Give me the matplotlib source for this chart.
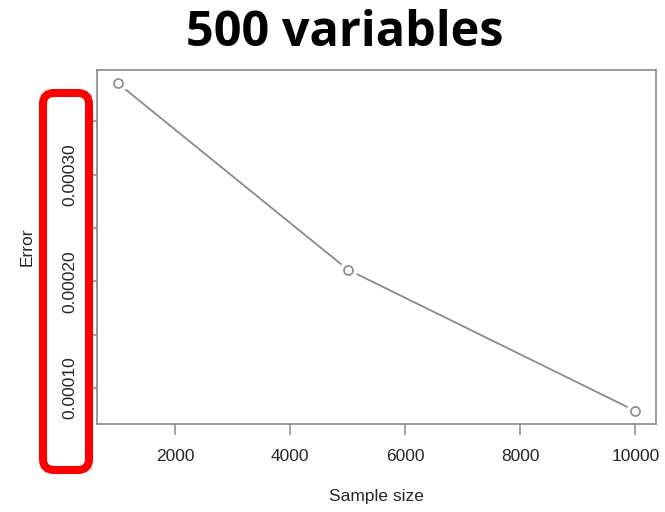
import matplotlib.pyplot as plt
from matplotlib.patches import FancyBboxPatch

# data
sample_size = [1000, 5000, 10000]
error = [0.000386, 0.000211, 0.0000784]

x_ticks = [2000, 4000, 6000, 8000, 10000]
y_ticks = [0.00010, 0.00015, 0.00020, 0.00025, 0.00030, 0.00035]
y_labels = ['0.00010', '', '0.00020', '', '0.00030', '']

plt.rcParams['font.family'] = ['Liberation Sans', 'DejaVu Sans']

W, H = 665, 512
fig = plt.figure(figsize=(W/100, H/100), dpi=100)
ax = fig.add_axes([97/W, 1 - 424/H, (656 - 97)/W, (424 - 70)/H])

gray = '#8a8a8a'
ax.plot(sample_size, error, color=gray, lw=1.3, zorder=2)
# white halo under the markers gives the R type="b" gaps
ax.plot(sample_size, error, 'o', ms=12, mfc='white', mec='white', zorder=3)
ax.plot(sample_size, error, 'o', ms=6.5, mfc='white', mec=gray, mew=1.2, zorder=4)

# R pads the data range by 4%
xr = max(sample_size) - min(sample_size)
yr = max(error) - min(error)
ax.set_xlim(min(sample_size) - 0.04*xr, max(sample_size) + 0.04*xr)
ax.set_ylim(min(error) - 0.04*yr, max(error) + 0.04*yr)

ax.set_xticks(x_ticks)
ax.set_xticklabels([str(v) for v in x_ticks])
ax.set_yticks(y_ticks)
ax.set_yticklabels(y_labels, rotation=90, va='center')

for s in ax.spines.values():
    s.set_color(gray)
    s.set_linewidth(1.2)
ax.tick_params(axis='both', colors=gray, length=8, width=1.1,
               labelcolor='#262626', labelsize=12.5)
ax.tick_params(axis='x', pad=10)
ax.tick_params(axis='y', pad=6)

ax.set_xlabel('Sample size', fontsize=12.5, color='#262626', labelpad=18)
ax.set_ylabel('Error', fontsize=12.5, color='#262626', labelpad=20)

fig.text(345/W, 1 - 33/H, '500 variables', ha='center', va='center',
         fontsize=35, fontweight='bold', family=['Open Sans', 'DejaVu Sans'])

# red highlight box round the y tick labels, placed in inches (1 in = 100 px)
box = FancyBboxPatch((43/100, (H - 470)/100), (89 - 43)/100, (470 - 93)/100,
                     boxstyle='round,pad=0,rounding_size=0.11',
                     transform=fig.dpi_scale_trans, fill=False,
                     edgecolor='#ff0000', linewidth=5.8, zorder=10)
fig.patches.append(box)

fig.savefig('out.png', dpi=100)
